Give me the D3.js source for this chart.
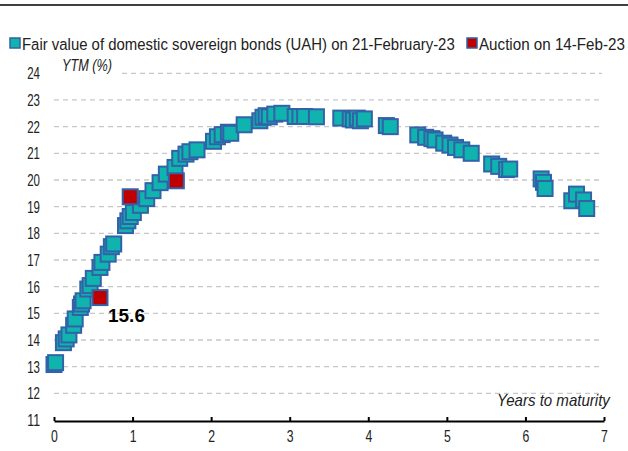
<!DOCTYPE html>
<html>
<head>
<meta charset="utf-8">
<script src="https://cdn.jsdelivr.net/npm/d3@7"></script>
<style>
  body { margin: 0; background: #fff; }
  svg text { font-family: "Liberation Sans", Arial, sans-serif; }
</style>
</head>
<body>
<svg id="chart"></svg>
<script>
// fair value curve, 21-Feb-23 (years to maturity, YTM %)
const fairX = [0.00, 0.02, 0.12, 0.155, 0.19, 0.25, 0.27, 0.335, 0.35, 0.37, 0.43, 0.46, 0.50, 0.585, 0.61, 0.69, 0.73, 0.76,
  0.91, 0.94, 0.97, 1.01, 1.10, 1.18, 1.26, 1.35, 1.43, 1.54, 1.60, 1.68, 1.73, 1.82, 2.03, 2.08, 2.14, 2.22, 2.25,
  2.42, 2.62, 2.66, 2.70, 2.74, 2.81, 2.90, 3.07, 3.13, 3.19, 3.34, 3.65, 3.77, 3.81, 3.86, 3.90, 3.95, 4.23, 4.28,
  4.63, 4.73, 4.81, 4.85, 4.96, 5.04, 5.11, 5.19, 5.31, 5.57, 5.66, 5.76, 5.80, 6.20, 6.23, 6.25, 6.59, 6.65, 6.74, 6.78];
const fairY = [13.08, 13.15, 13.90, 14.04, 14.19, 14.55, 14.79, 15.22, 15.35, 15.47, 15.91, 16.04, 16.31, 16.72, 16.91, 17.22, 17.50, 17.60,
  18.29, 18.47, 18.63, 18.78, 19.05, 19.30, 19.60, 19.90, 20.22, 20.47, 20.81, 20.97, 21.06, 21.13, 21.45, 21.62, 21.70, 21.79, 21.75,
  22.07, 22.22, 22.35, 22.41, 22.37, 22.47, 22.50, 22.38, 22.38, 22.38, 22.37, 22.32, 22.29, 22.25, 22.32, 22.22, 22.29, 22.04, 22.00,
  21.69, 21.60, 21.55, 21.50, 21.38, 21.31, 21.22, 21.13, 21.00, 20.60, 20.51, 20.39, 20.41, 20.04, 19.91, 19.68, 19.22, 19.47, 19.25, 18.93];

// auction 14-Feb-23
const auctionX = [0.585, 0.97, 1.557];
const auctionY = [15.59, 19.37, 19.97];

const xTicks = [0, 1, 2, 3, 4, 5, 6, 7];
const yTicks = [11, 12, 13, 14, 15, 16, 17, 18, 19, 20, 21, 22, 23, 24];

const legendLabels = ["Fair value of domestic sovereign bonds (UAH) on 21-February-23", "Auction on 14-Feb-23"];

const width = 628, height = 451;
const teal = "#0fb4ae", blue = "#3262a8", red = "#c00000";
const digitW = 6.4; // narrow font look

const svg = d3.select("#chart").attr("width", width).attr("height", height);

const x = d3.scaleLinear().domain([0, 7]).range([54, 604]);
const y = d3.scaleLinear().domain([11, 24]).range([420, 73.3]);

// squeeze a text horizontally to a target width (condensed look), anchored at (ax, ay)
function squeeze(t, ax, ay, w, anchor) {
  const len = t.node().getComputedTextLength();
  const k = w / len;
  const shift = anchor === "end" ? -w : anchor === "middle" ? -w / 2 : 0;
  t.attr("text-anchor", "start").attr("x", 0).attr("y", 0)
   .attr("transform", `translate(${ax + shift},${ay}) scale(${k},1)`);
}

// top rule
svg.append("line").attr("x1", 0).attr("x2", width).attr("y1", 5).attr("y2", 5)
   .attr("stroke", "#000").attr("stroke-width", 1.5);

// grid lines
svg.append("g").selectAll("line").data(yTicks.filter(d => d > 11)).enter().append("line")
   .attr("x1", d => d === 24 ? 122 : x(0)).attr("x2", 602)
   .attr("y1", d => y(d)).attr("y2", d => y(d))
   .attr("stroke", "#c8c8c8").attr("stroke-width", 1.3).attr("stroke-dasharray", "5,4");

// y labels (no axis line)
svg.append("g").selectAll("text").data(yTicks).enter().append("text")
   .attr("font-size", 17).attr("fill", "#222").attr("dy", "0.36em").text(d => d)
   .each(function(d) { squeeze(d3.select(this), 40, y(d), String(d).length * digitW, "end"); });

// x axis
const xAxis = svg.append("g").attr("transform", `translate(0,${y(11) + 1})`)
   .call(d3.axisBottom(x).tickValues(xTicks).tickSize(0).tickPadding(9).tickFormat(d3.format("d")));
xAxis.select(".domain").attr("stroke", "#000").attr("stroke-width", 2.2);
xAxis.selectAll("text").attr("font-size", 17).attr("fill", "#222")
   .style("font-family", "'Liberation Sans', Arial, sans-serif")
   .attr("transform", "scale(0.72,1)");
xAxis.selectAll(".tick").append("line").attr("y1", 0).attr("y2", -4).attr("stroke", "#000").attr("stroke-width", 2);

// axis titles
const ytmLabel = svg.append("text").attr("font-size", 16).attr("font-style", "italic")
   .attr("fill", "#222").text("YTM (%)");
squeeze(ytmLabel, 62, 71, 50, "start");
const yearsLabel = svg.append("text").attr("font-size", 16).attr("font-style", "italic")
   .attr("fill", "#222").text("Years to maturity");
squeeze(yearsLabel, 610, 406, 113, "end");

// markers
const size = 15;
const fair = fairX.map((d, i) => ({ x: d, y: fairY[i] }));
const auction = auctionX.map((d, i) => ({ x: d, y: auctionY[i] }));

svg.append("g").selectAll("rect").data(fair).enter().append("rect")
   .attr("x", d => x(d.x) - size / 2).attr("y", d => y(d.y) - size / 2)
   .attr("width", size).attr("height", size)
   .attr("fill", teal).attr("stroke", blue).attr("stroke-width", 2);

svg.append("g").selectAll("rect").data(auction).enter().append("rect")
   .attr("x", d => x(d.x) - size / 2).attr("y", d => y(d.y) - size / 2)
   .attr("width", size).attr("height", size)
   .attr("fill", red).attr("stroke", blue).attr("stroke-width", 2);

// data label
const valueLabel = svg.append("text").attr("font-size", 19).attr("font-weight", "bold").attr("fill", "#000")
   .text(auction[0].y.toFixed(1));
squeeze(valueLabel, x(auction[0].x) + 8, y(auction[0].y) + 24, 37, "start");

// legend
const legend = svg.append("g");
[[10, teal, 22, 433], [467, red, 479, 146]].forEach((p, i) => {
  legend.append("rect").attr("x", p[0]).attr("y", 38).attr("width", 10).attr("height", 10)
     .attr("fill", p[1]).attr("stroke", blue).attr("stroke-width", 1.5);
  const t = legend.append("text").attr("font-size", 17).attr("fill", "#222").text(legendLabels[i]);
  squeeze(t, p[2], 50, p[3], "start");
});
</script>
</body>
</html>
